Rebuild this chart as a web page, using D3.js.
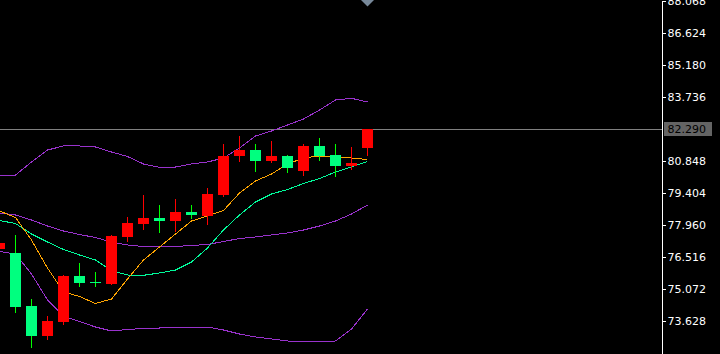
<!DOCTYPE html>
<html>
<head>
<meta charset="utf-8">
<script src="https://cdn.jsdelivr.net/npm/d3@7/dist/d3.min.js"></script>
<style>
  html, body { margin: 0; padding: 0; background: #000; }
  svg { display: block; }
</style>
</head>
<body>
<div id="chart"></div>
<script>
// candles, first one is cut by the left edge (index -1)
var opens  = [76.877, 76.697, 74.305, 72.951, 73.583, 75.659, 75.388, 75.298, 77.418, 78.019, 78.289, 78.154, 78.547, 78.380, 79.314, 81.087, 81.344, 80.862, 81.074, 80.410, 81.525, 81.119, 80.636, 81.448];
var highs  = [77.373, 77.522, 74.621, 73.854, 75.704, 76.245, 75.839, 77.487, 78.321, 79.314, 78.862, 79.133, 78.862, 79.630, 81.615, 81.976, 81.615, 81.751, 81.132, 81.615, 81.886, 81.615, 81.480, 82.290];
var lows   = [76.742, 74.003, 72.423, 72.771, 73.447, 75.176, 75.176, 75.252, 77.193, 77.734, 77.613, 77.658, 78.244, 77.946, 79.237, 80.816, 80.365, 80.771, 80.320, 80.185, 80.862, 80.140, 80.455, 81.087];
var closes = [77.148, 74.260, 72.951, 73.628, 75.659, 75.343, 75.343, 77.464, 78.050, 78.276, 78.154, 78.547, 78.425, 79.359, 81.074, 81.344, 80.862, 81.074, 80.546, 81.525, 81.087, 80.636, 80.758, 82.290];

// bollinger bands
var bbUpper  = [80.216, 80.216, 80.803, 81.344, 81.525, 81.525, 81.480, 81.254, 81.051, 80.713, 80.564, 80.577, 80.713, 80.803, 80.983, 81.435, 81.976, 82.202, 82.473, 82.743, 83.149, 83.601, 83.677, 83.510];
var bbMiddle = [78.502, 78.411, 78.186, 77.915, 77.689, 77.531, 77.396, 77.193, 77.058, 76.990, 76.967, 76.990, 77.035, 77.080, 77.215, 77.351, 77.419, 77.509, 77.599, 77.734, 77.915, 78.141, 78.456, 78.863];
var bbLower  = [76.764, 76.651, 75.749, 74.576, 73.854, 73.605, 73.357, 73.177, 73.245, 73.290, 73.312, 73.335, 73.357, 73.357, 73.222, 73.041, 72.906, 72.816, 72.726, 72.712, 72.712, 72.726, 73.267, 74.170];

// moving averages
var maFast = [78.592, 78.298, 77.283, 76.020, 74.937, 74.734, 74.418, 74.621, 75.523, 76.381, 76.967, 77.554, 78.141, 78.366, 78.614, 79.404, 79.946, 80.261, 80.713, 80.983, 81.074, 81.029, 80.983, 80.916];
var maSlow = [78.163, 78.028, 77.554, 77.193, 76.854, 76.606, 76.381, 75.907, 75.704, 75.690, 75.794, 75.929, 76.290, 76.922, 77.734, 78.411, 78.998, 79.359, 79.562, 79.833, 80.058, 80.352, 80.577, 80.825];

var priceTicks = [88.068, 86.624, 85.180, 83.736, 80.848, 79.404, 77.960, 76.516, 75.072, 73.628];
var lastPrice = 82.290;

var width = 720, height = 354, plotRight = 662;

var svg = d3.select("#chart").append("svg")
    .attr("width", width)
    .attr("height", height)
    .style("background", "#000");

svg.append("clipPath").attr("id", "plotclip")
  .append("rect").attr("x", 0).attr("y", 0).attr("width", plotRight).attr("height", height);

var x = d3.scaleLinear().domain([-1, 22]).range([-0.5, 367.5]);
var y = d3.scaleLinear().domain([72.139, 88.113]).range([height, 0]);

var plot = svg.append("g").attr("clip-path", "url(#plotclip)");

// last price line
var lastY = Math.floor(y(lastPrice)) + 0.5;
plot.append("line")
    .attr("x1", 0).attr("x2", plotRight)
    .attr("y1", lastY).attr("y2", lastY)
    .attr("stroke", "#808080").attr("stroke-width", 1)
    .attr("shape-rendering", "crispEdges");

function drawLine(values, color) {
    var line = d3.line()
        .x(function(d, i) { return x(i - 1); })
        .y(function(d) { return y(d); });
    plot.append("path")
        .datum(values)
        .attr("d", line)
        .attr("fill", "none")
        .attr("stroke", color)
        .attr("stroke-width", 1)
        .attr("shape-rendering", "crispEdges");
}

drawLine(bbUpper, "#9932CC");
drawLine(bbMiddle, "#9932CC");
drawLine(bbLower, "#9932CC");
drawLine(maSlow, "#00FA9A");
drawLine(maFast, "#FFA500");

var candles = opens.map(function(o, i) {
    return { i: i - 1, o: o, h: highs[i], l: lows[i], c: closes[i] };
});

var g = plot.selectAll(".candle").data(candles).enter().append("g")
    .attr("class", "candle")
    .attr("shape-rendering", "crispEdges");

// wicks
g.append("rect")
    .attr("x", function(d) { return Math.floor(x(d.i)); })
    .attr("width", 1)
    .attr("y", function(d) { return Math.round(y(d.h)); })
    .attr("height", function(d) { return Math.max(1, Math.round(y(d.l)) - Math.round(y(d.h))); })
    .attr("fill", function(d) { return d.c >= d.o ? "#FF0000" : "#00FF00"; });

// bodies
g.append("rect")
    .attr("x", function(d) { return Math.floor(x(d.i)) - 5; })
    .attr("width", 11)
    .attr("y", function(d) { return Math.round(y(Math.max(d.o, d.c))); })
    .attr("height", function(d) {
        return Math.max(1, Math.round(y(Math.min(d.o, d.c))) - Math.round(y(Math.max(d.o, d.c))));
    })
    .attr("fill", function(d) { return d.c >= d.o ? "#FF0000" : "#00FF7F"; });

// marker above the last bar
var lx = x(22);
svg.append("path")
    .attr("d", "M" + (lx - 6.5) + ",0L" + (lx + 6.5) + ",0L" + lx + ",6.5Z")
    .attr("fill", "#778899");

// price axis on the right
var axis = d3.axisRight(y)
    .tickValues(priceTicks)
    .tickSize(4)
    .tickSizeOuter(0)
    .tickPadding(1.5)
    .tickFormat(d3.format(".3f"));

var ax = svg.append("g")
    .attr("transform", "translate(" + plotRight + ",0)")
    .call(axis);
ax.select(".domain").attr("stroke", "#fff").attr("shape-rendering", "crispEdges");
ax.selectAll(".tick line").attr("stroke", "#fff").attr("shape-rendering", "crispEdges");
ax.selectAll(".tick text")
    .attr("fill", "#fff")
    .style("font-family", "'DejaVu Sans', sans-serif")
    .style("font-size", "11px");

// current price box
svg.append("rect")
    .attr("x", 664).attr("y", lastY - 7.5)
    .attr("width", 48).attr("height", 14)
    .attr("fill", "#646464");
svg.append("text")
    .attr("x", 667.5).attr("y", lastY)
    .attr("dy", "0.35em")
    .attr("fill", "#000")
    .style("font-family", "'DejaVu Sans', sans-serif")
    .style("font-size", "11px")
    .text(d3.format(".3f")(lastPrice));
</script>
</body>
</html>
